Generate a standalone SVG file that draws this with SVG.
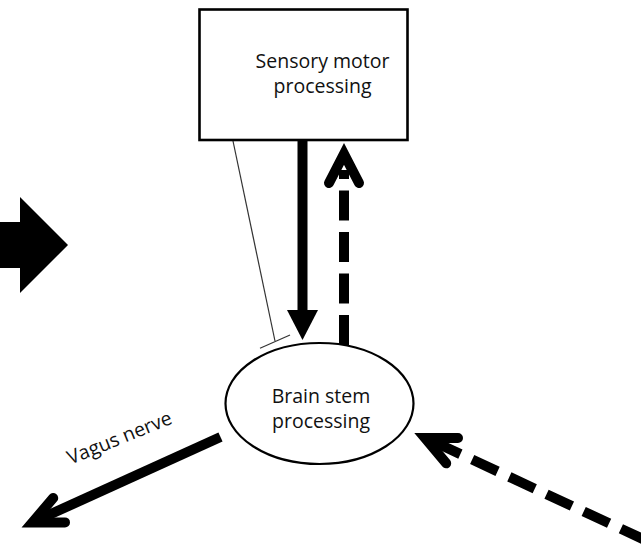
<svg xmlns="http://www.w3.org/2000/svg" width="641" height="549" viewBox="0 0 641 549">
  <style>
    .lbl { font-family: "Open Sans", "Liberation Sans", sans-serif; font-size: 19.5px; fill: #111; text-anchor: middle; }
    .node { fill: #fff; stroke: #000; }
    .thick { fill: none; stroke: #000; stroke-width: 10; stroke-linecap: butt; }
    .chev { fill: none; stroke: #000; stroke-width: 10; stroke-linecap: round; stroke-linejoin: miter; }
  </style>
  <rect width="641" height="549" fill="#fff"/>

  <g id="connectors">
    <!-- big block arrow on the left -->
    <polygon id="input-arrow" points="-5,222 20,222 20,197 68,245 20,293 20,268 -5,268" fill="#000"/>

    <!-- thin inhibitory line with T-bar -->
    <g id="inhibit">
      <line x1="233" y1="141" x2="275" y2="341" stroke="#333" stroke-width="1.2"/>
      <line x1="260" y1="348.3" x2="290" y2="335" stroke="#333" stroke-width="1.2"/>
    </g>

    <!-- solid down arrow -->
    <g id="down-arrow">
      <rect x="297.5" y="140" width="10" height="172" fill="#000"/>
      <polygon points="287,310 318,310 302.5,340" fill="#000"/>
    </g>

    <!-- dashed up arrow -->
    <g id="up-arrow">
      <line x1="344" y1="345" x2="344" y2="170" class="thick" stroke-dasharray="30 11.5"/>
      <polyline points="329,183 344,154 359,183" class="chev"/>
    </g>

    <!-- vagus nerve arrow -->
    <g id="vagus-arrow">
      <line x1="220.5" y1="437" x2="37" y2="520.3" class="thick"/>
      <polyline points="53.2,498.1 32.4,522.4 65,522.4" class="chev"/>
    </g>

    <!-- dashed arrow from lower right -->
    <g id="afferent-arrow">
      <line x1="435" y1="442.3" x2="670" y2="551.6" class="thick" stroke-dasharray="28 13"/>
      <polyline points="458,438 425,438 446.2,463.3" class="chev"/>
    </g>
  </g>

  <g id="node-sensory-motor">
    <rect x="199.5" y="9.5" width="208" height="130.5" class="node" stroke-width="2.6"/>
    <text class="lbl" x="322.5" y="68">Sensory motor</text>
    <text class="lbl" x="322.5" y="93">processing</text>
  </g>

  <g id="node-brain-stem">
    <ellipse cx="319.5" cy="403.5" rx="94" ry="60.5" class="node" stroke-width="2.2"/>
    <text class="lbl" x="321" y="403">Brain stem</text>
    <text class="lbl" x="321" y="428">processing</text>
  </g>

  <g id="label-vagus">
    <text class="lbl" transform="translate(122,444) rotate(-22)" x="0" y="0">Vagus nerve</text>
  </g>
</svg>
